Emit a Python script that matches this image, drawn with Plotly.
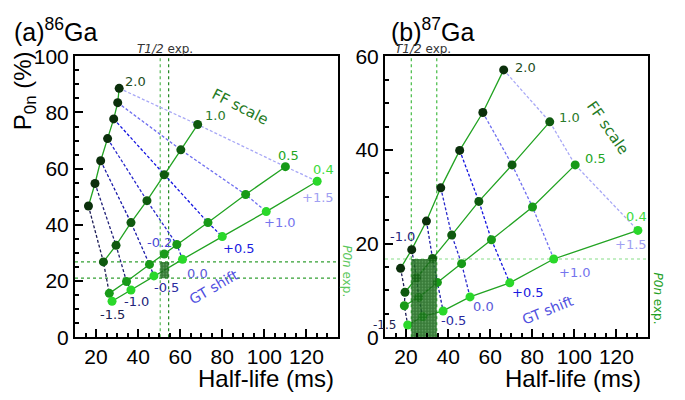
import plotly.graph_objects as go

# ---------------- data ----------------
gt_shifts = ["-1.5", "-1.0", "-0.5", "0.0", "+0.5", "+1.0", "+1.5"]
ff_scales = ["2.0", "1.0", "0.5", "0.4"]

# 86Ga : half-life (ms) and P0n (%) for each FF scale, GT shift -1.5 ... +1.5
ga86_t_ff20 = [16.4, 19.5, 22.2, 25.5, 28.4, 30.3, 31.0]
ga86_p_ff20 = [46.7, 54.7, 62.8, 70.7, 77.7, 83.5, 88.6]
ga86_t_ff10 = [23.5, 29.5, 36.6, 44.2, 52.4, 60.3, 68.3]
ga86_p_ff10 = [26.8, 32.7, 40.8, 48.6, 57.8, 66.7, 75.7]
ga86_t_ff05 = [26.3, 34.5, 45.4, 58.4, 73.2, 91.1, 110.0]
ga86_p_ff05 = [15.6, 19.8, 25.9, 33.0, 40.8, 50.8, 60.7]
ga86_t_ff04 = [27.6, 36.6, 47.5, 61.1, 80.0, 100.9, 125.1]
ga86_p_ff04 = [12.8, 16.8, 21.8, 27.7, 35.8, 44.7, 55.5]
# extra point FF 0.5, GT -0.2
ga86_best_label = "-0.2"
ga86_best_t = 52.4
ga86_best_p = 29.6
ga86_t12_exp = [50.5, 54.5]
ga86_p0n_exp = [21.0, 26.8]

# 87Ga
ga87_t_ff20 = [17.4, 22.7, 29.7, 36.5, 45.5, 56.5, 66.4]
ga87_p_ff20 = [14.7, 18.7, 24.8, 31.9, 39.9, 48.0, 57.1]
ga87_t_ff10 = [19.5, 25.0, 32.6, 41.7, 54.6, 70.4, 88.3]
ga87_p_ff10 = [9.6, 12.7, 16.8, 21.8, 29.0, 36.8, 46.0]
ga87_t_ff05 = [19.2, 26.0, 34.9, 46.4, 60.6, 80.1, 100.4]
ga87_p_ff05 = [6.7, 8.5, 11.7, 15.7, 20.8, 27.8, 36.8]
ga87_t_ff04 = [20.8, 27.9, 37.6, 50.4, 69.3, 90.2, 130.2]
ga87_p_ff04 = [2.6, 4.4, 5.6, 8.6, 11.6, 16.7, 22.8]
ga87_t12_exp = [22.5, 34.6]
ga87_p0n_exp = [0.0, 16.7]

# ---------------- styles ----------------
ff_marker_colors = ["#0b2f0b", "#0f5a0f", "#189a18", "#2ad82a"]
ff_label_colors = ["#1e4d1e", "#2a7a2a", "#22a622", "#3ddc3d"]
ff_line_color = "#22a322"
gt_line_colors = ["#1c1c55", "#202078", "#1a1aa8", "#2a2acc", "#1414e0", "#7070f0", "#a8a8f6"]
gt_label_colors = ["#202050", "#24247a", "#2a2aa0", "#5a5ad8", "#1a1ae0", "#7575ee", "#a0a0f2"]
best_label_color = "#4a4ad6"

LAB = "DejaVu Sans"
AX = "Liberation Sans, Arial"

fig = go.Figure()

panels = [
    dict(xa="x", ya="y",
         t=[ga86_t_ff20, ga86_t_ff10, ga86_t_ff05, ga86_t_ff04],
         p=[ga86_p_ff20, ga86_p_ff10, ga86_p_ff05, ga86_p_ff04],
         t12=ga86_t12_exp, p0n=ga86_p0n_exp),
    dict(xa="x2", ya="y2",
         t=[ga87_t_ff20, ga87_t_ff10, ga87_t_ff05, ga87_t_ff04],
         p=[ga87_p_ff20, ga87_p_ff10, ga87_p_ff05, ga87_p_ff04],
         t12=ga87_t12_exp, p0n=ga87_p0n_exp),
]

for pi, pn in enumerate(panels):
    # GT shift lines (dotted)
    for gi in range(len(gt_shifts)):
        fig.add_trace(go.Scatter(
            x=[pn["t"][fi][gi] for fi in range(4)],
            y=[pn["p"][fi][gi] for fi in range(4)],
            mode="lines", xaxis=pn["xa"], yaxis=pn["ya"],
            line=dict(color=gt_line_colors[gi], width=1.3, dash="3px,2px"),
            showlegend=False, hoverinfo="skip"))
    # FF scale lines with markers
    for fi in range(4):
        xs = list(pn["t"][fi])
        ys = list(pn["p"][fi])
        if pi == 0 and fi == 2:
            xs = xs[:3] + [ga86_best_t] + xs[3:]
            ys = ys[:3] + [ga86_best_p] + ys[3:]
        fig.add_trace(go.Scatter(
            x=xs, y=ys, mode="lines+markers", xaxis=pn["xa"], yaxis=pn["ya"],
            line=dict(color=ff_line_color, width=1.3),
            marker=dict(size=9, color=ff_marker_colors[fi],
                        line=dict(width=0)),
            showlegend=False, hoverinfo="skip"))
    # experimental box (hatched)
    x0, x1 = pn["t12"]
    y0, y1 = pn["p0n"]
    fig.add_trace(go.Scatter(
        x=[x0, x1, x1, x0, x0], y=[y0, y0, y1, y1, y0],
        mode="lines", fill="toself", xaxis=pn["xa"], yaxis=pn["ya"],
        line=dict(width=0, color="rgba(0,0,0,0)"),
        fillcolor="rgba(22,100,22,0.85)",
        fillpattern=dict(shape=".", fgcolor="rgba(160,225,160,0.8)",
                         bgcolor="rgba(22,100,22,0.85)", size=3, solidity=0.25),
        showlegend=False, hoverinfo="skip"))

shapes = []
# 86Ga exp lines
for xv, c in zip(ga86_t12_exp, ["#55bb55", "#228822"]):
    shapes.append(dict(type="line", xref="x", yref="y domain", x0=xv, x1=xv, y0=0, y1=1,
                       line=dict(color=c, width=1.2, dash="dot"), layer="below"))
for yv, c in zip(ga86_p0n_exp, ["#33a033", "#33a033"]):
    shapes.append(dict(type="line", xref="x domain", yref="y", x0=0, x1=1, y0=yv, y1=yv,
                       line=dict(color=c, width=1.2, dash="dot"), layer="below"))
# 87Ga exp lines
for xv in ga87_t12_exp:
    shapes.append(dict(type="line", xref="x2", yref="y2 domain", x0=xv, x1=xv, y0=0, y1=1,
                       line=dict(color="#44bb44", width=1.2, dash="dot"), layer="below"))
shapes.append(dict(type="line", xref="x2 domain", yref="y2", x0=0, x1=1,
                   y0=ga87_p0n_exp[1], y1=ga87_p0n_exp[1],
                   line=dict(color="#88dd88", width=1.2, dash="dot"), layer="below"))

ann = []


def lab(text, x, y, xr, yr, color, size=13, xs=0, ys=0, xanchor="center", angle=0, font=LAB):
    ann.append(dict(text=text, x=x, y=y, xref=xr, yref=yr, showarrow=False,
                    xanchor=xanchor, yanchor="middle", xshift=xs, yshift=ys,
                    textangle=angle, font=dict(family=font, size=size, color=color)))


# ---- panel a labels ----
ff_off_a = [(4, 7, "left"), (5, 9, "left"), (3, 11, "center"), (6, 12, "center")]
last = len(gt_shifts) - 1
for fi, (xs_, ys_, xa_) in enumerate(ff_off_a):
    lab(ff_scales[fi], panels[0]["t"][fi][last], panels[0]["p"][fi][last], "x", "y",
        ff_label_colors[fi], xs=xs_, ys=ys_, xanchor=xa_)
gt_off_a = [(0, -13), (6, -12), (13, -12), (15, -14), (17, -12), (14, -11), (1, -16)]
for gi, (xs_, ys_) in enumerate(gt_off_a):
    lab(gt_shifts[gi], ga86_t_ff04[gi], ga86_p_ff04[gi], "x", "y",
        gt_label_colors[gi], xs=xs_, ys=ys_)
lab(ga86_best_label, ga86_best_t, ga86_best_p, "x", "y", best_label_color, xs=-5, ys=12)
lab("FF scale", 88.7, 82.1, "x", "y", "#1f7a1f", size=15, angle=27)
lab("GT shift", 75.9, 17.8, "x", "y", "#5050e0", size=14, angle=-30)

# ---- panel b labels ----
ff_off_b = [(9, 2, "left"), (7, 4, "left"), (8, 6, "left"), (-1, 14, "center")]
for fi, (xs_, ys_, xa_) in enumerate(ff_off_b):
    lab(ff_scales[fi], panels[1]["t"][fi][last], panels[1]["p"][fi][last], "x2", "y2",
        ff_label_colors[fi], xs=xs_, ys=ys_, xanchor=xa_)
gt_off_b = {2: (10, -10), 3: (13, -10), 4: (18, -10), 5: (21, -14), 6: (-7, -14)}
for gi, (xs_, ys_) in gt_off_b.items():
    lab(gt_shifts[gi], ga87_t_ff04[gi], ga87_p_ff04[gi], "x2", "y2",
        gt_label_colors[gi], xs=xs_, ys=ys_)
lab(gt_shifts[1], ga87_t_ff20[1], ga87_p_ff20[1], "x2", "y2", gt_label_colors[1], xs=-9, ys=13)
lab(gt_shifts[0], ga87_t_ff04[0], ga87_p_ff04[0], "x2", "y2", gt_label_colors[0],
    size=12, xs=-23, ys=0)
lab("FF scale", 115.9, 44.6, "x2", "y2", "#1f7a1f", size=15, angle=55)
lab("GT shift", 87.5, 5.7, "x2", "y2", "#5050e0", size=14, angle=-22)

# ---- texts in paper coords ----
W, H = 685, 400


def ptext(text, px, py, size, color="#000", xanchor="center", angle=0, font=AX):
    ann.append(dict(text=text, x=px / W, y=1 - py / H, xref="paper", yref="paper",
                    showarrow=False, xanchor=xanchor, yanchor="middle", textangle=angle,
                    font=dict(family=font, size=size, color=color)))


ptext("(a)<sup>86</sup>Ga", 12, 19, 25, xanchor="left")
ptext("(b)<sup>87</sup>Ga", 389, 19, 25, xanchor="left")
ptext("P<sub>0n</sub> (%)", 24, 84, 24, angle=-90)
ptext("Half-life (ms)", 336, 389, 24, xanchor="right")
ptext("Half-life (ms)", 643, 389, 24, xanchor="right")
ptext("<i>T1/2</i> exp.", 165, 39, 12, color="#333333", font=LAB)
ptext("<i>T1/2</i> exp.", 423, 39, 12, color="#333333", font=LAB)
ptext("<i>P0n</i> exp.", 347, 275, 12, color="#5cc85c", angle=90, font=LAB)
ptext("<i>P0n</i> exp.", 658, 304, 12, color="#22a022", angle=90, font=LAB)

xdom_a = [75 / W, 338 / W]
xdom_b = [385 / W, 648 / W]
ydom = [(H - 345) / H, (H - 47) / H]

common_x = dict(range=[10, 135], dtick=20, tick0=0, ticks="inside", ticklen=8, tickwidth=1.5,
                tickcolor="black", showline=True, linecolor="black", linewidth=2, mirror=True,
                showgrid=False, zeroline=False,
                tickfont=dict(family=AX, size=21, color="black"),
                minor=dict(dtick=5, ticks="inside", ticklen=4, tickwidth=1.5, tickcolor="black"))
common_y = dict(dtick=20, tick0=0, ticks="inside", ticklen=8, tickwidth=1.5,
                tickcolor="black", showline=True, linecolor="black", linewidth=2, mirror=True,
                showgrid=False, zeroline=False,
                tickfont=dict(family=AX, size=21, color="black"),
                minor=dict(dtick=5, ticks="inside", ticklen=4, tickwidth=1.5, tickcolor="black"))

fig.update_layout(
    width=W, height=H, margin=dict(l=0, r=0, t=0, b=0),
    paper_bgcolor="white", plot_bgcolor="white", showlegend=False,
    xaxis=dict(domain=xdom_a, anchor="y", **common_x),
    yaxis=dict(domain=ydom, anchor="x", range=[0, 100], **common_y),
    xaxis2=dict(domain=xdom_b, anchor="y2", **common_x),
    yaxis2=dict(domain=ydom, anchor="x2", range=[0, 60], **common_y),
    shapes=shapes, annotations=ann,
)

fig.write_html("out.html")
